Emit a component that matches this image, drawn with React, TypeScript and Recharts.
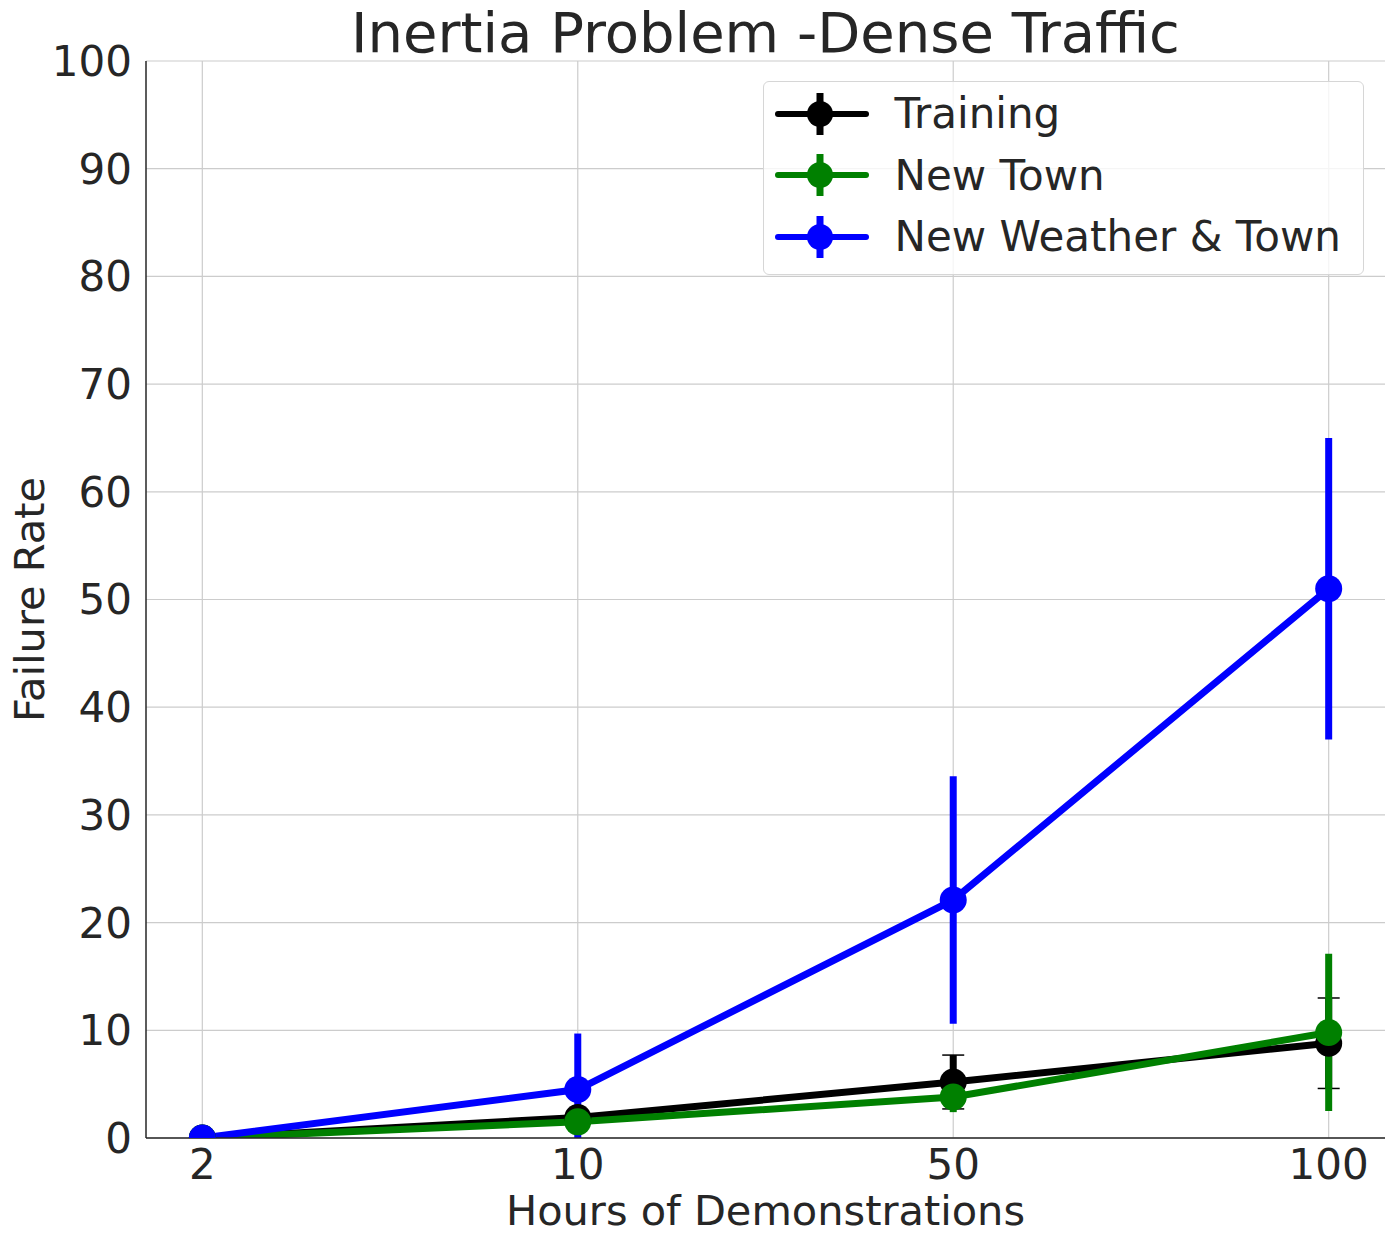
import React from 'react';
import { LineChart, Line, XAxis, YAxis, CartesianGrid, ErrorBar, Legend, Label } from 'recharts';

const categories = ['2', '10', '50', '100'];
const training = [0, 1.9, 5.2, 8.8];
const trainingErr = [0, 0.6, 2.5, 4.2];
const newTown = [0, 1.5, 3.8, 9.8];
const newTownErr = [0, 0.5, 1.4, 7.3];
const newWeather = [0, 4.5, 22.1, 51.0];
const newWeatherErrLow = [0, 4.5, 11.5, 14.0];
const newWeatherErrHigh = [0, 5.2, 11.5, 14.0];
const yTicks = [0, 10, 20, 30, 40, 50, 60, 70, 80, 90, 100];
const xTicks = [0, 1, 2, 3];

const seriesInfo = [
  { key: 'training', name: 'Training', color: '#000000' },
  { key: 'newTown', name: 'New Town', color: '#008000' },
  { key: 'newWeather', name: 'New Weather & Town', color: '#0000ff' },
];

const data = categories.map((c, i) => ({
  x: i,
  label: c,
  training: training[i],
  trainingErr: trainingErr[i],
  newTown: newTown[i],
  newTownErr: newTownErr[i],
  newWeather: newWeather[i],
  newWeatherErr: [newWeatherErrLow[i], newWeatherErrHigh[i]],
}));

const FONT = '"DejaVu Sans", sans-serif';
const TEXT = '#262626';

const LegendBox = () => (
  <div
    style={{
      width: 601,
      height: 194,
      boxSizing: 'border-box',
      border: '1.5px solid #d6d6d6',
      borderRadius: 6,
      background: 'rgba(255,255,255,0.8)',
      fontFamily: FONT,
      paddingTop: 1,
    }}
  >
    {seriesInfo.map((s) => (
      <div key={s.key} style={{ display: 'flex', alignItems: 'center', height: 61.5 }}>
        <svg width={94} height={46} style={{ marginLeft: 10.5, flex: 'none' }}>
          <line x1={3} x2={91} y1={23} y2={23} stroke={s.color} strokeWidth={6} strokeLinecap="round" />
          <line x1={45} x2={45} y1={2} y2={44} stroke={s.color} strokeWidth={7} />
          <circle cx={45} cy={23} r={13} fill={s.color} />
        </svg>
        <span style={{ marginLeft: 26, fontSize: 42, color: TEXT, whiteSpace: 'nowrap' }}>{s.name}</span>
      </div>
    ))}
  </div>
);

export default function App() {
  return (
    <div style={{ position: 'absolute', left: 0, top: 0, width: 1398, height: 1243, background: '#fff' }}>
      <div
        style={{
          position: 'absolute',
          left: 146,
          width: 1239,
          top: -2,
          textAlign: 'center',
          fontFamily: FONT,
          fontSize: 56,
          color: TEXT,
          lineHeight: '70px',
          whiteSpace: 'nowrap',
        }}
      >
        Inertia Problem -Dense Traffic
      </div>
      <LineChart
        width={1398}
        height={1243}
        data={data}
        margin={{ top: 61, right: 13, bottom: 45, left: 16 }}
        style={{ position: 'absolute', left: 0, top: 0 }}
      >
        <CartesianGrid stroke="#cccccc" strokeWidth={1.2} verticalValues={xTicks} horizontalValues={yTicks} />
        <XAxis
          dataKey="x"
          type="number"
          domain={[-0.15, 3.15]}
          ticks={xTicks}
          tickFormatter={(v: number) => categories[v]}
          height={60}
          tickLine={false}
          tickSize={0}
          tickMargin={11}
          axisLine={{ stroke: TEXT, strokeWidth: 1.5 }}
          tick={{ fill: TEXT, fontSize: 42, fontFamily: FONT }}
          allowDataOverflow
        >
          <Label
            value="Hours of Demonstrations"
            position="insideBottom"
            offset={-27}
            style={{ fill: TEXT, fontSize: 41.5, fontFamily: FONT }}
          />
        </XAxis>
        <XAxis
          xAxisId="top"
          orientation="top"
          dataKey="x"
          type="number"
          domain={[-0.15, 3.15]}
          height={0}
          tick={false}
          tickLine={false}
          axisLine={{ stroke: TEXT, strokeWidth: 1.5 }}
        />
        <YAxis
          type="number"
          domain={[0, 100]}
          ticks={yTicks}
          width={130}
          tickLine={false}
          tickSize={0}
          tickMargin={14}
          axisLine={{ stroke: TEXT, strokeWidth: 1.5 }}
          tick={{ fill: TEXT, fontSize: 42, fontFamily: FONT }}
          allowDataOverflow
        >
          <Label
            value="Failure Rate"
            angle={-90}
            position="insideLeft"
            offset={13}
            style={{ fill: TEXT, fontSize: 41.5, fontFamily: FONT, textAnchor: 'middle' }}
          />
        </YAxis>
        <YAxis
          yAxisId="right"
          orientation="right"
          type="number"
          domain={[0, 100]}
          width={0}
          tick={false}
          tickLine={false}
          axisLine={{ stroke: TEXT, strokeWidth: 1.5 }}
        />
        <Legend
          layout="horizontal"
          verticalAlign="middle"
          align="center"
          content={() => <LegendBox />}
          wrapperStyle={{ position: 'absolute', left: 763, top: 81, width: 601, height: 194 }}
        />
        <Line
          dataKey="training"
          name="Training"
          type="linear"
          stroke="#000000"
          strokeWidth={7}
          dot={{ r: 13.5, fill: '#000000', stroke: '#000000', strokeWidth: 0 }}
          isAnimationActive={false}
        >
          <ErrorBar dataKey="trainingErr" direction="y" width={0} stroke="#000000" strokeWidth={7} />
          <ErrorBar dataKey="trainingErr" direction="y" width={11} stroke="#000000" strokeWidth={1.5} />
        </Line>
        <Line
          dataKey="newTown"
          name="New Town"
          type="linear"
          stroke="#008000"
          strokeWidth={7}
          dot={{ r: 13.5, fill: '#008000', stroke: '#008000', strokeWidth: 0 }}
          isAnimationActive={false}
        >
          <ErrorBar dataKey="newTownErr" direction="y" width={0} stroke="#008000" strokeWidth={7} />
        </Line>
        <Line
          dataKey="newWeather"
          name="New Weather & Town"
          type="linear"
          stroke="#0000ff"
          strokeWidth={7}
          dot={{ r: 13.5, fill: '#0000ff', stroke: '#0000ff', strokeWidth: 0 }}
          isAnimationActive={false}
        >
          <ErrorBar dataKey="newWeatherErr" direction="y" width={0} stroke="#0000ff" strokeWidth={7} />
        </Line>
      </LineChart>
    </div>
  );
}
